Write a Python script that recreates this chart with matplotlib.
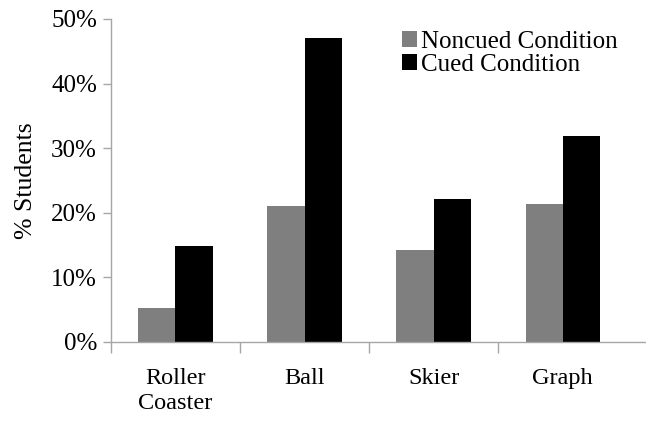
import numpy as np
import matplotlib.pyplot as plt

categories = ['Roller\nCoaster', 'Ball', 'Skier', 'Graph']
noncued = [5.3, 21.0, 14.2, 21.4]
cued = [14.9, 47.0, 22.2, 31.9]
yticks = [0, 10, 20, 30, 40, 50]

plt.rcParams['font.family'] = 'Liberation Serif'

fig = plt.figure(figsize=(6.46, 4.22), dpi=100)
ax = fig.add_axes([0.1718, 0.1896, 0.8282, 0.7654])

x = np.arange(len(categories))
w = 0.287
ax.bar(x - w/2, noncued, w, color='#7f7f7f', label='Noncued Condition')
ax.bar(x + w/2, cued, w, color='black', label='Cued Condition')

ax.set_xlim(-0.5, 3.647)
ax.set_ylim(0, 50)
ax.set_yticks(yticks)
ax.set_yticklabels([f'{t}%' for t in yticks], fontsize=18)
ax.set_ylabel('% Students', fontsize=18.5, labelpad=10)

# boundary ticks as major, category names on invisible minor ticks
ax.set_xticks([-0.5, 0.5, 1.5, 2.5])
ax.set_xticklabels([])
ax.set_xticks(x, minor=True)
ax.set_xticklabels(categories, minor=True, fontsize=17.5, linespacing=1.2)
ax.tick_params(axis='x', which='minor', length=0, pad=19)
ax.tick_params(axis='x', which='major', length=8, color='#a6a6a6', width=1)
ax.tick_params(axis='y', length=6, color='#a6a6a6', width=1, pad=4)

for s in ['top', 'right']:
    ax.spines[s].set_visible(False)
for s in ['left', 'bottom']:
    ax.spines[s].set_color('#a6a6a6')
    ax.spines[s].set_linewidth(1)

ax.legend(loc='upper left', bbox_to_anchor=(0.525, 0.995), frameon=False, fontsize=18,
          handlelength=0.6, handleheight=0.6, handletextpad=0.15, labelspacing=0.05,
          borderaxespad=0)

fig.savefig('out.png', dpi=100)
